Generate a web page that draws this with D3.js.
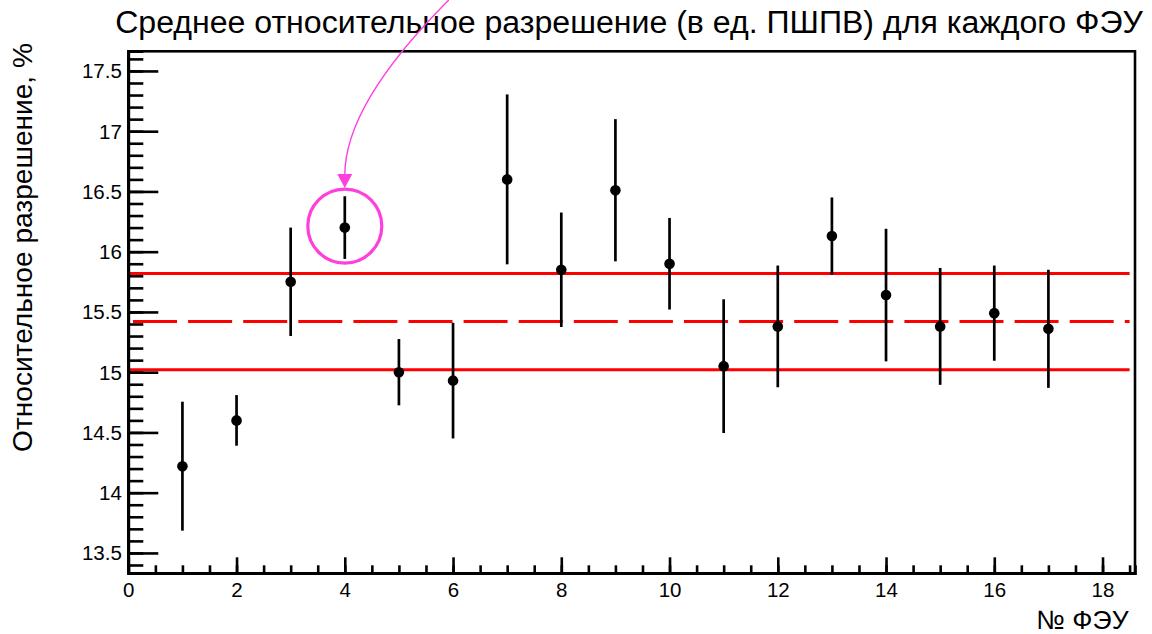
<!DOCTYPE html>
<html>
<head>
<meta charset="utf-8">
<script src="https://cdn.jsdelivr.net/npm/d3@7"></script>
<style>
  html, body { margin: 0; padding: 0; background: #fff; }
  svg { display: block; font-family: "Liberation Sans", Arial, Helvetica, sans-serif; }
</style>
</head>
<body>
<svg id="chart" width="1152" height="634"></svg>
<script>
// Mean relative resolution (FWHM units) per photomultiplier
const pmtIds   = [1, 2, 3, 4, 5, 6, 7, 8, 9, 10, 11, 12, 13, 14, 15, 16, 17];
const meanRes  = [14.22, 14.60, 15.75, 16.20, 15.00, 14.93, 16.60, 15.85, 16.51, 15.90, 15.05, 15.38, 16.13, 15.64, 15.38, 15.49, 15.36];
const resErr   = [0.535, 0.21, 0.45, 0.26, 0.275, 0.48, 0.705, 0.475, 0.59, 0.38, 0.555, 0.505, 0.32, 0.55, 0.485, 0.395, 0.49];

// Overall average and its band
const avgLevel  = 15.42;
const avgSpread = 0.40;
const bandXRange = [0, 18.5];

// Highlighted PMT
const highlightId = 4;

// Axis ranges and ticks
const xDomain = [0, 18.6];
const yDomain = [13.331, 17.663];
const xMajorTicks = [0, 2, 4, 6, 8, 10, 12, 14, 16, 18];
const xMinorTicks = d3.range(0, 18.51, 0.5);
const yMajorTicks = [13.5, 14, 14.5, 15, 15.5, 16, 16.5, 17, 17.5];
const yMinorTicks = d3.range(134, 177, 1).map(v => v / 10);

const titleText  = "Среднее относительное разрешение (в ед. ПШПВ) для каждого ФЭУ";
const xLabelText = "№ ФЭУ";
const yLabelText = "Относительное разрешение, %";

const svg = d3.select("#chart");
const frame = { left: 128.3, right: 1135, top: 51.3, bottom: 573.3 };

const x = d3.scaleLinear().domain(xDomain).range([frame.left, frame.right]);
const y = d3.scaleLinear().domain(yDomain).range([frame.bottom, frame.top]);

const pink = "#ff3fdc";
const red = "#ff0000";

// scale a text element's font so its length matches a target width
function fitWidth(sel, width) {
  const len = sel.node().getComputedTextLength();
  const fs = parseFloat(sel.attr("font-size"));
  sel.attr("font-size", (fs * width / len).toFixed(2));
}

// Frame
svg.append("rect")
  .attr("x", frame.left).attr("y", frame.top)
  .attr("width", frame.right - frame.left)
  .attr("height", frame.bottom - frame.top)
  .attr("fill", "none").attr("stroke", "#000").attr("stroke-width", 2.6);

// Average band lines
const band = svg.append("g");
[avgLevel + avgSpread, avgLevel - avgSpread].forEach(v => {
  band.append("line")
    .attr("x1", x(bandXRange[0])).attr("x2", x(bandXRange[1]))
    .attr("y1", y(v)).attr("y2", y(v))
    .attr("stroke", red).attr("stroke-width", 3);
});
band.append("line")
  .attr("x1", x(bandXRange[0])).attr("x2", x(bandXRange[1]))
  .attr("y1", y(avgLevel)).attr("y2", y(avgLevel))
  .attr("stroke", red).attr("stroke-width", 3)
  .attr("stroke-dasharray", "44,11.1")
  .attr("stroke-dashoffset", 50.4);

// Error bars and markers
const pts = pmtIds.map((id, i) => ({ id, v: meanRes[i], e: resErr[i] }));
const g = svg.append("g");
g.selectAll("line.err").data(pts).join("line")
  .attr("class", "err")
  .attr("x1", d => x(d.id)).attr("x2", d => x(d.id))
  .attr("y1", d => y(d.v + d.e)).attr("y2", d => y(d.v - d.e))
  .attr("stroke", "#000").attr("stroke-width", 2.7);
g.selectAll("circle.pt").data(pts).join("circle")
  .attr("class", "pt")
  .attr("cx", d => x(d.id)).attr("cy", d => y(d.v))
  .attr("r", 5.3).attr("fill", "#000");

// Axes with inward ticks
const numFmt = d3.format("~g");
const yAxisMinor = d3.axisLeft(y).tickValues(yMinorTicks).tickSize(-15).tickFormat("");
const yAxisMajor = d3.axisLeft(y).tickValues(yMajorTicks).tickFormat(numFmt)
  .tickSizeInner(-30).tickSizeOuter(0).tickPadding(6.5);
const xAxisMinor = d3.axisBottom(x).tickValues(xMinorTicks).tickSize(-8).tickFormat("");
const xAxisMajor = d3.axisBottom(x).tickValues(xMajorTicks).tickFormat(numFmt)
  .tickSizeInner(-16).tickSizeOuter(0).tickPadding(8.8);

function styleAxis(a) {
  a.selectAll("line").attr("stroke", "#000").attr("stroke-width", 2.6);
  a.select(".domain").attr("stroke", "#000").attr("stroke-width", 2.6);
  a.selectAll("text").attr("fill", "#000").attr("font-size", 20.5)
    .attr("font-family", "'Liberation Sans', Arial, sans-serif");
}
const gy1 = svg.append("g").attr("transform", `translate(${frame.left},0)`).call(yAxisMinor);
const gy2 = svg.append("g").attr("transform", `translate(${frame.left},0)`).call(yAxisMajor);
const gx1 = svg.append("g").attr("transform", `translate(0,${frame.bottom})`).call(xAxisMinor);
const gx2 = svg.append("g").attr("transform", `translate(0,${frame.bottom})`).call(xAxisMajor);
[gy1, gy2, gx1, gx2].forEach(styleAxis);
gy2.selectAll("text").attr("dy", "0.34em");

// Title
const title = svg.append("text")
  .attr("x", 629).attr("y", 33.3)
  .attr("text-anchor", "middle")
  .attr("font-size", 28).attr("fill", "#000")
  .text(titleText);
fitWidth(title, 1028);

// Axis titles
const xl = svg.append("text")
  .attr("x", 1128.5).attr("y", 629.3)
  .attr("text-anchor", "end")
  .attr("font-size", 26).attr("fill", "#000")
  .text(xLabelText);
fitWidth(xl, 92);

const yl = svg.append("text")
  .attr("transform", `translate(32.3,247.5) rotate(-90)`)
  .attr("text-anchor", "middle")
  .attr("font-size", 23).attr("fill", "#000")
  .text(yLabelText);
fitWidth(yl, 409);

// Highlight for the selected PMT: circle and curved arrow
const hp = pts.find(d => d.id === highlightId);
const hx = x(hp.id), hy = y(hp.v);
svg.append("circle")
  .attr("cx", hx).attr("cy", hy - 1.5).attr("r", 37)
  .attr("fill", "none").attr("stroke", pink).attr("stroke-width", 3.2);

const tipY = hy - 39.5;
const headLen = 14, headHalf = 7.5;
svg.append("path")
  .attr("d", `M${hx + 104},0 Q${hx},${tipY - 84} ${hx},${tipY - headLen + 1}`)
  .attr("fill", "none").attr("stroke", pink).attr("stroke-width", 1.4);
svg.append("path")
  .attr("d", `M${hx},${tipY} L${hx - headHalf},${tipY - headLen} L${hx + headHalf},${tipY - headLen} Z`)
  .attr("fill", pink);
</script>
</body>
</html>
